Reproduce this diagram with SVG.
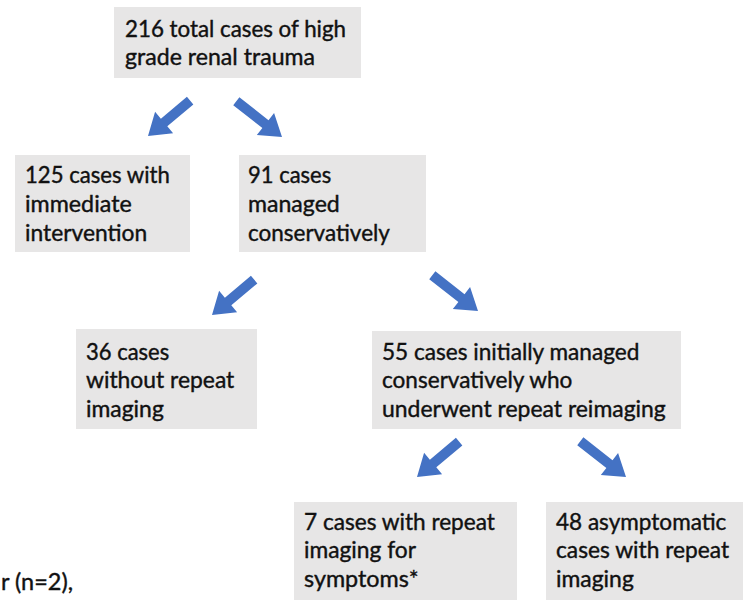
<svg xmlns="http://www.w3.org/2000/svg" xmlns:xlink="http://www.w3.org/1999/xlink" width="743" height="600" viewBox="0 0 743 600">
<style>
.box{fill:#e7e6e6;}
.t{font-family:Lato,"Open Sans","Liberation Sans",sans-serif;font-size:22.5px;fill:#111111;stroke:#111111;stroke-width:0.4px;}
.arr{fill:#4472c4;}
</style>
<defs>
<polygon id="arrL" points="-55,-5 -21,-5 -21,-14 0,0 -21,14 -21,5 -55,5"/>
<polygon id="arrR" points="-58,-5 -21,-5 -21,-14 0,0 -21,14 -21,5 -58,5"/>
</defs>
<rect width="743" height="600" fill="#ffffff"/>
<g id="connectors" class="arr">
<use xlink:href="#arrL" href="#arrL" transform="translate(148,136) rotate(140)"/>
<use xlink:href="#arrR" href="#arrR" transform="translate(282,137) rotate(38)"/>
<use xlink:href="#arrL" href="#arrL" transform="translate(212,315) rotate(140)"/>
<use xlink:href="#arrR" href="#arrR" transform="translate(478,311) rotate(38)"/>
<use xlink:href="#arrL" href="#arrL" transform="translate(417,477) rotate(140)"/>
<use xlink:href="#arrR" href="#arrR" transform="translate(626,477) rotate(38)"/>
</g>
<g id="node-total">
<rect class="box" x="114" y="7" width="247" height="71"/>
<text class="t" x="125" y="37" textLength="221" lengthAdjust="spacingAndGlyphs">216 total cases of high</text>
<text class="t" x="125" y="65" textLength="190" lengthAdjust="spacingAndGlyphs">grade renal trauma</text>
</g>
<g id="node-immediate">
<rect class="box" x="15" y="155" width="175" height="97"/>
<text class="t" x="25" y="183" textLength="144.8" lengthAdjust="spacingAndGlyphs">125 cases with</text>
<text class="t" x="25" y="212" textLength="106.7" lengthAdjust="spacingAndGlyphs">immediate</text>
<text class="t" x="25" y="241" textLength="122.2" lengthAdjust="spacingAndGlyphs">intervention</text>
</g>
<g id="node-conservative">
<rect class="box" x="239" y="155" width="187" height="97"/>
<text class="t" x="248" y="183" textLength="83.2" lengthAdjust="spacingAndGlyphs">91 cases</text>
<text class="t" x="248" y="212" textLength="91.8" lengthAdjust="spacingAndGlyphs">managed</text>
<text class="t" x="248" y="241" textLength="141.9" lengthAdjust="spacingAndGlyphs">conservatively</text>
</g>
<g id="node-no-repeat">
<rect class="box" x="76" y="329" width="181" height="100"/>
<text class="t" x="86" y="360" textLength="83.2" lengthAdjust="spacingAndGlyphs">36 cases</text>
<text class="t" x="86" y="388" textLength="148.3" lengthAdjust="spacingAndGlyphs">without repeat</text>
<text class="t" x="86" y="417" textLength="77.8" lengthAdjust="spacingAndGlyphs">imaging</text>
</g>
<g id="node-reimaging">
<rect class="box" x="372" y="331" width="309" height="98"/>
<text class="t" x="382" y="360" textLength="257.3" lengthAdjust="spacingAndGlyphs">55 cases initially managed</text>
<text class="t" x="382" y="388" textLength="190.3" lengthAdjust="spacingAndGlyphs">conservatively who</text>
<text class="t" x="382" y="417" textLength="283.8" lengthAdjust="spacingAndGlyphs">underwent repeat reimaging</text>
</g>
<g id="node-symptoms">
<rect class="box" x="294" y="502" width="223" height="100"/>
<text class="t" x="304" y="530" textLength="190.9" lengthAdjust="spacingAndGlyphs">7 cases with repeat</text>
<text class="t" x="304" y="558" textLength="112" lengthAdjust="spacingAndGlyphs">imaging for</text>
<text class="t" x="304" y="587" textLength="114.6" lengthAdjust="spacingAndGlyphs">symptoms*</text>
</g>
<g id="node-asymptomatic">
<rect class="box" x="546" y="502" width="200" height="100"/>
<text class="t" x="556" y="530" textLength="170.4" lengthAdjust="spacingAndGlyphs">48 asymptomatic</text>
<text class="t" x="556" y="558" textLength="173.1" lengthAdjust="spacingAndGlyphs">cases with repeat</text>
<text class="t" x="556" y="587" textLength="77.8" lengthAdjust="spacingAndGlyphs">imaging</text>
</g>
<g id="side-note">
<text class="t" x="1" y="590" textLength="72" lengthAdjust="spacingAndGlyphs">r (n=2),</text>
</g>
</svg>
